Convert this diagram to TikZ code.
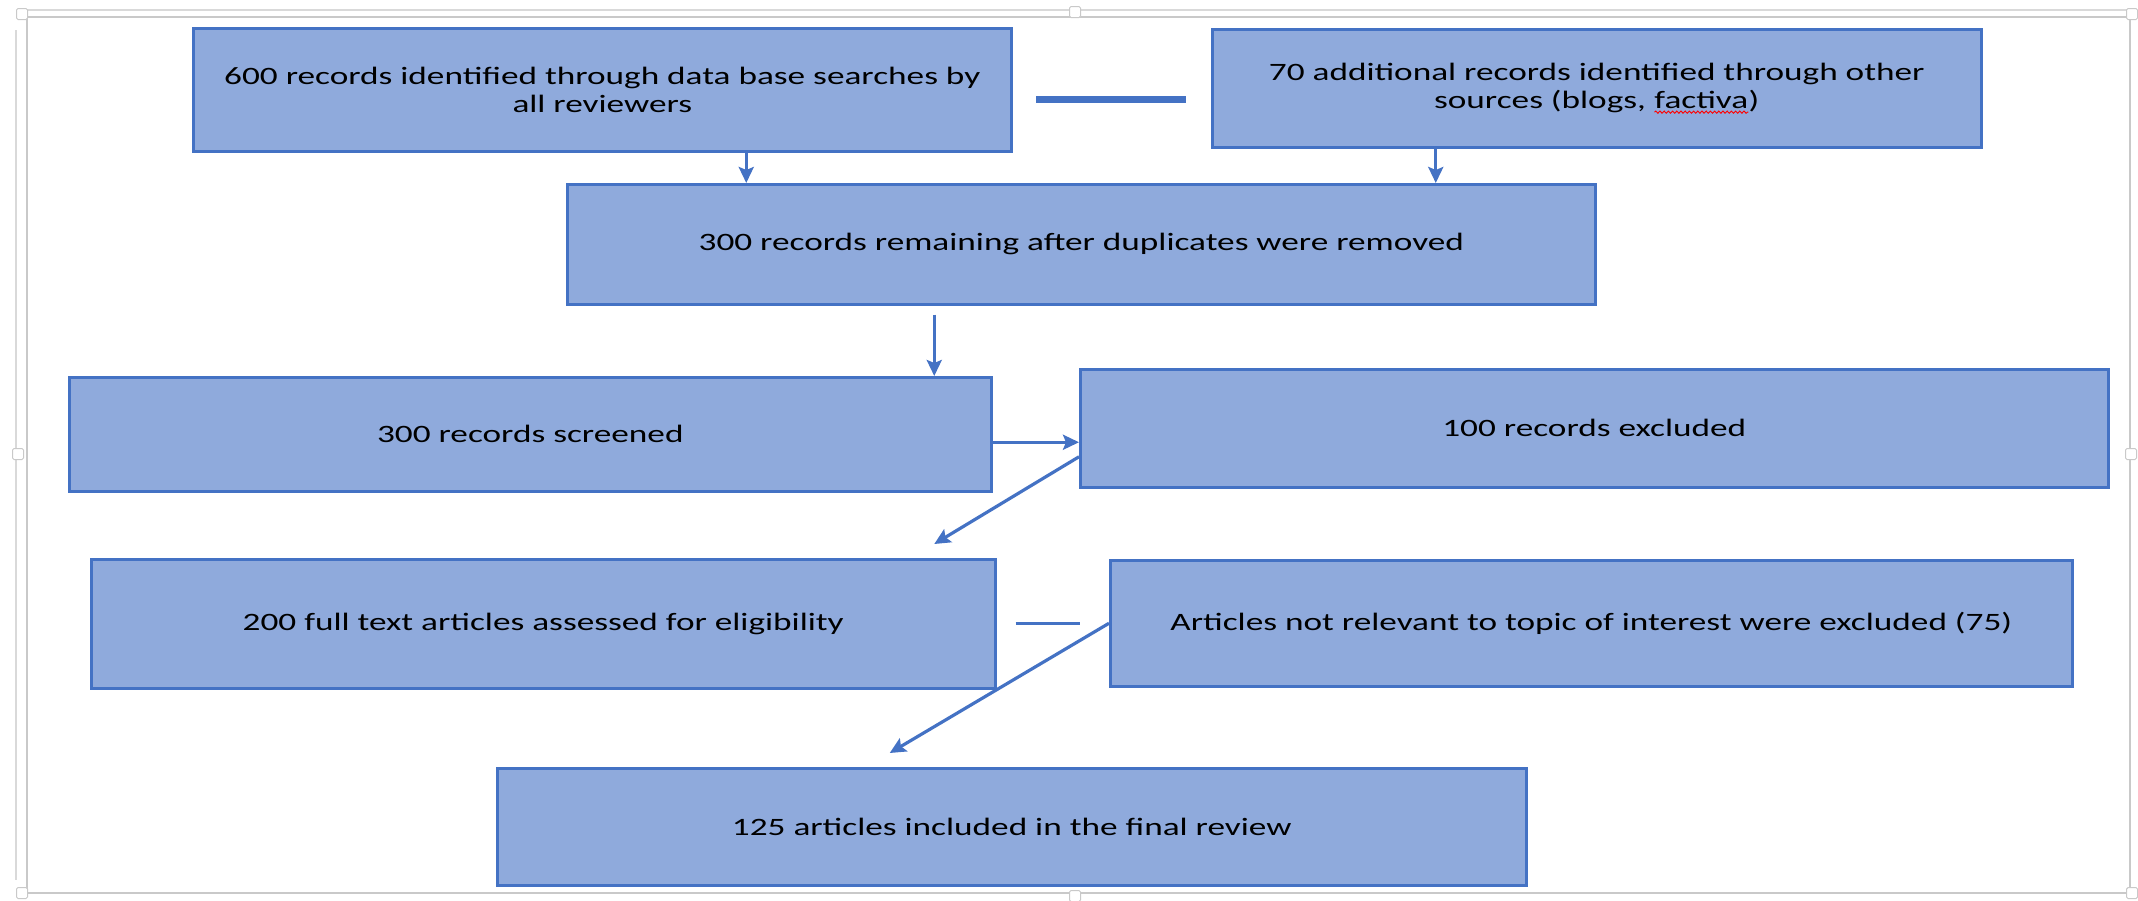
\documentclass[tikz,border=0pt]{standalone}
\usepackage{fontspec}
\setmainfont{Carlito}[FakeStretch=1.41]
\usetikzlibrary{arrows.meta,decorations.pathmorphing}

\definecolor{boxfill}{HTML}{8FAADC}
\definecolor{boxline}{HTML}{4472C4}
\definecolor{framegray}{HTML}{C9C9C9}

% word with a red wavy spell-check underline
\newcommand\spellmark[1]{\tikz[baseline=(sw.base), x=1pt, y=1pt]{%
  \node[inner sep=0pt, outer sep=0pt, minimum width=0pt, minimum height=0pt,
        draw=none, fill=none, anchor=base, align=left] (sw) {#1};
  \draw[red, line width=0.9pt, decorate,
        decoration={snake, amplitude=1.1pt, segment length=4.2pt}]
    ([yshift=-4pt]sw.base west) -- ([yshift=-4pt]sw.base east);}}

\begin{document}
\begin{tikzpicture}[x=1pt, y=-1pt,
  box/.style={draw=boxline, fill=boxfill, line width=2.5pt, anchor=north west,
              align=center, inner sep=0pt, text=black,
              font=\fontsize{25}{28}\selectfont},
  flow/.style={draw=boxline, line width=3.2pt,
               -{Stealth[length=16pt, width=15pt, inset=3pt]}},
  link/.style={draw=boxline, line width=2.6pt},
  handle/.style={draw=framegray, fill=white, line width=1pt, minimum size=11pt,
                 inner sep=0pt, rounded corners=1.5pt}]

\useasboundingbox (0,0) rectangle (2138,900);

% selection frame around the chart
\draw[framegray, line width=1.5pt] (27,17) rectangle (2130,893);
\draw[framegray!70, line width=1.2pt] (27,10) -- (2130,10);
\draw[framegray!70, line width=1.2pt] (16,30) -- (16,880);
\node[handle] (h1) at (1075,12) {};
\node[handle] (h2) at (1075,896) {};
\node[handle] (h3) at (18,454) {};
\node[handle] (h4) at (2131,454) {};
\node[handle] (h5) at (22,14) {};
\node[handle] (h6) at (2132,14) {};
\node[handle] (h7) at (22,893) {};
\node[handle] (h8) at (2132,893) {};

% boxes
\node[box, minimum width=818pt, minimum height=123pt] (A) at (192,27)
  {600 records identified through data base searches by\\all reviewers};
\node[box, minimum width=769pt, minimum height=118pt] (B) at (1211,28)
  {70 additional records identified through other\\sources (blogs, \spellmark{factiva})};
\node[box, minimum width=1028pt, minimum height=120pt] (C) at (566,183)
  {300 records remaining after duplicates were removed};
\node[box, minimum width=922pt, minimum height=114pt] (D) at (68,376)
  {300 records screened};
\node[box, minimum width=1028pt, minimum height=118pt] (E) at (1079,368)
  {100 records excluded};
\node[box, minimum width=904pt, minimum height=129pt] (F) at (90,558)
  {200 full text articles assessed for eligibility};
\node[box, minimum width=962pt, minimum height=126pt] (G) at (1109,559)
  {Articles not relevant to topic of interest were excluded (75)};
\node[box, minimum width=1029pt, minimum height=117pt] (H) at (496,767)
  {125 articles included in the final review};

% connectors
\fill[boxline] ([xshift=23pt, yshift=-6pt]A.east)
  rectangle ([xshift=-25pt, yshift=-14.5pt]B.west);
\draw[flow] ([xshift=144pt]A.south) -- ([xshift=144pt]A.south |- C.north);
\draw[flow] ([xshift=-161pt]B.south) -- ([xshift=-161pt]B.south |- C.north);
\draw[flow] ([xshift=-147pt, yshift=-9pt]C.south) -- ([xshift=-147pt]C.south |- D.north);
\draw[flow] ([yshift=-8pt]D.east) -- ([yshift=-8pt]D.east -| E.west);
\draw[flow] ([yshift=-28.5pt]E.west) -- ([xshift=391pt, yshift=14pt]F.north);
\draw[link] ([xshift=19pt, yshift=0.5pt]F.east) -- ([xshift=-29pt]G.west);
\draw[flow] (G.west) -- ([xshift=-122pt, yshift=14pt]H.north);

\end{tikzpicture}
\end{document}
